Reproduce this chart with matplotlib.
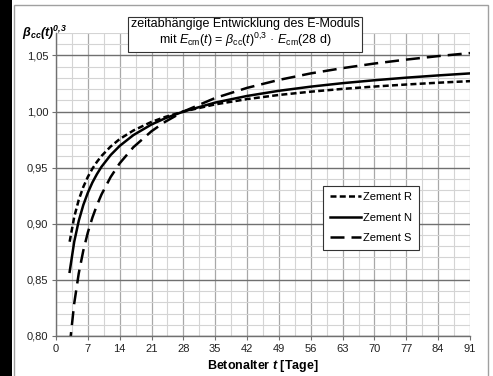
import matplotlib
matplotlib.use('Agg')
import matplotlib.pyplot as plt
from matplotlib.patches import Rectangle
from matplotlib.ticker import MultipleLocator

plt.rcParams['font.family'] = 'Liberation Sans'
plt.rcParams['mathtext.fontset'] = 'custom'
plt.rcParams['mathtext.rm'] = 'Liberation Sans'
plt.rcParams['mathtext.it'] = 'Liberation Sans:italic'
plt.rcParams['mathtext.bf'] = 'Liberation Sans:bold:italic'

# Betonalter in Tagen und beta_cc(t)^0,3 je Zementklasse
alter = [3, 4, 5, 6, 7, 8, 9, 10, 12, 14, 17, 21, 24, 28,
         35, 42, 49, 56, 63, 70, 77, 84, 91]
zement_r = [0.8840, 0.9060, 0.9213, 0.9328, 0.9418, 0.9491, 0.9552, 0.9604,
            0.9688, 0.9755, 0.9831, 0.9908, 0.9952, 1.0000,
            1.0064, 1.0111, 1.0148, 1.0177, 1.0202, 1.0223, 1.0241, 1.0257, 1.0271]
zement_n = [0.8572, 0.8839, 0.9026, 0.9167, 0.9277, 0.9368, 0.9443, 0.9508,
            0.9612, 0.9694, 0.9790, 0.9885, 0.9940, 1.0000,
            1.0080, 1.0139, 1.0185, 1.0222, 1.0253, 1.0279, 1.0302, 1.0322, 1.0340]
zement_s = [0.7911, 0.8289, 0.8558, 0.8761, 0.8923, 0.9055, 0.9166, 0.9261,
            0.9416, 0.9539, 0.9682, 0.9825, 0.9909, 1.0000,
            1.0121, 1.0211, 1.0282, 1.0340, 1.0387, 1.0428, 1.0463, 1.0494, 1.0521]

x_ticks = list(range(0, 92, 7))
y_ticks = [0.80, 0.85, 0.90, 0.95, 1.00, 1.05]

fig = plt.figure(figsize=(4.93, 3.76), dpi=100)

# schwarzer Rand links und grauer Rahmen um das Diagramm
fig.patches.append(Rectangle((0, 0), 12 / 493, 1, transform=fig.transFigure,
                             facecolor='black', edgecolor='none', zorder=0))
fig.patches.append(Rectangle((14 / 493, -0.05), 474 / 493, 1 - 5 / 376 + 0.05,
                             transform=fig.transFigure, facecolor='none',
                             edgecolor='#a0a0a0', linewidth=1.0, zorder=0))

ax = fig.add_axes([56 / 493, 1 - 336 / 376, 414 / 493, 303 / 376])

lw = 1.8
ax.plot(alter, zement_r, color='black', lw=lw, dashes=(2.4, 1.3), label='Zement R')
ax.plot(alter, zement_n, color='black', lw=lw, label='Zement N')
ax.plot(alter, zement_s, color='black', lw=lw, dashes=(5.6, 2.8), label='Zement S')

ax.set_xlim(0, 91)
ax.set_ylim(0.80, 1.07)
ax.set_xticks(x_ticks)
ax.set_yticks(y_ticks)
ax.set_yticklabels([f'{v:.2f}'.replace('.', ',') for v in y_ticks])
ax.xaxis.set_minor_locator(MultipleLocator(3.5))
ax.yaxis.set_minor_locator(MultipleLocator(0.01))

ax.grid(which='major', axis='x', color='#a8a8a8', lw=0.9)
ax.grid(which='minor', axis='x', color='#d4d4d4', lw=0.8)
ax.grid(which='major', axis='y', color='#707070', lw=1.0)
ax.grid(which='minor', axis='y', color='#d4d4d4', lw=0.8)
ax.set_axisbelow(True)

for side in ('top', 'right'):
    ax.spines[side].set_visible(False)
for side in ('left', 'bottom'):
    ax.spines[side].set_color('#707070')
    ax.spines[side].set_linewidth(1.0)

ax.tick_params(which='major', length=3, width=0.8, color='#707070',
               labelsize=8, labelcolor='#222222', pad=2.5)
ax.tick_params(which='minor', length=0)

ax.set_xlabel(r'Betonalter $\mathbf{t}$ [Tage]', fontsize=9, fontweight='bold', labelpad=3)

fig.text(22 / 493, 1 - 33 / 376, r'$\mathbf{\beta_{cc}(t)^{0{,}3}}$', fontsize=9,
         ha='left', va='center')

fig.text(245 / 493, 1 - 33.5 / 376,
         'zeitabhängige Entwicklung des E-Moduls\n'
         r'mit $E_{\mathrm{cm}}(t)$ = $\beta_{\mathrm{cc}}(t)^{0{,}3}$ · $E_{\mathrm{cm}}$(28 d)',
         fontsize=9, ha='center', va='center', linespacing=1.1,
         bbox=dict(boxstyle='square,pad=0.2', facecolor='white',
                   edgecolor='#333333', linewidth=0.8))

leg = ax.legend(loc='lower left', bbox_to_anchor=(0.645, 0.284), fontsize=8,
                handlelength=2.8, handletextpad=0.2, labelspacing=0.95,
                fancybox=False, framealpha=1, edgecolor='#333333',
                borderpad=0.6, borderaxespad=0)
leg.get_frame().set_linewidth(0.8)

fig.savefig('out.png', dpi=100)
